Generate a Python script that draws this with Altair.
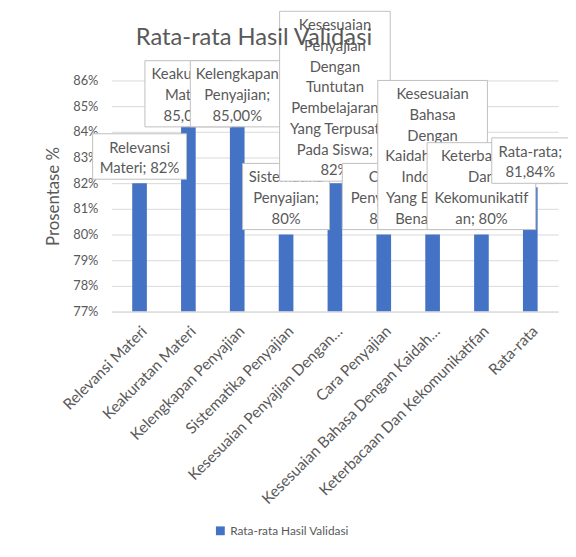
import textwrap

import altair as alt
import pandas as pd

# ---------------- data ----------------
categories = [
    "Relevansi Materi",
    "Keakuratan Materi",
    "Kelengkapan Penyajian",
    "Sistematika Penyajian",
    "Kesesuaian Penyajian Dengan Tuntutan Pembelajaran Yang Terpusat Pada Siswa",
    "Cara Penyajian",
    "Kesesuaian Bahasa Dengan Kaidah Bahasa Indonesia Yang Baik Dan Benar",
    "Keterbacaan Dan Kekomunikatifan",
    "Rata-rata",
]
values = [82, 85, 85, 80, 82, 80, 80, 80, 81.84]
series_name = "Rata-rata Hasil Validasi"

# data-label text, wrapped as in the original
label_lines = [
    ["Relevansi", "Materi; 82%"],
    ["Keakuratan", "Materi;", "85,00%"],
    ["Kelengkapan", "Penyajian;", "85,00%"],
    ["Sistematika", "Penyajian;", "80%"],
    ["Kesesuaian", "Penyajian", "Dengan", "Tuntutan", "Pembelajaran",
     "Yang Terpusat", "Pada Siswa;", "82%"],
    ["Cara", "Penyajian;", "80%"],
    ["Kesesuaian", "Bahasa", "Dengan", "Kaidah Bahasa", "Indonesia",
     "Yang Baik Dan", "Benar; 80%"],
    ["Keterbacaan", "Dan", "Kekomunikatif", "an; 80%"],
    ["Rata-rata;", "81,84%"],
]
y_ticks = [77, 78, 79, 80, 81, 82, 83, 84, 85, 86]

# axis labels are shortened the way the spreadsheet does it
short_names = [textwrap.shorten(c, width=32, placeholder="…") for c in categories]

# ---------------- layout / style ----------------
W, H = 452, 234
Y_MIN, Y_MAX = 77, 86
PPU = H / (Y_MAX - Y_MIN)           # pixels per percentage point
box_widths = [95, 88, 95, 88, 112, 84, 111, 110, 78]
box_gap_px = [4, -21, -21, 5, 2, 5, 5, 5, 4]
LINE_H = 21
BOX_PAD = 4
FONT = "Lato"
GREY = "#595959"
BLUE = "#4472C4"

rows = []
for i, (c, s, v, lines) in enumerate(zip(categories, short_names, values, label_lines)):
    hpx = len(lines) * LINE_H + BOX_PAD
    bot = v + box_gap_px[i] / PPU
    top = bot + hpx / PPU
    rows.append(dict(cat=c, short=s, value=v, idx=i, lines=lines, bot=bot,
                     top=top, series=series_name))
df = pd.DataFrame(rows)

yscale = alt.Scale(domain=[Y_MIN, Y_MAX], zero=False, nice=False)
xscale = alt.Scale(paddingInner=0.7, paddingOuter=0.42)

x_axis = alt.Axis(
    title=None, labelAngle=-45, labelFont=FONT, labelFontSize=15.5,
    labelColor=GREY, ticks=False, domainColor="#D9D9D9", labelPadding=12,
    labelLimit=300,
)
y_axis = alt.Axis(
    title="Prosentase %", values=y_ticks, labelExpr="datum.value + '%'",
    labelFont=FONT, labelFontSize=13, labelColor=GREY, labelPadding=14,
    titleFont=FONT, titleFontSize=17, titleFontWeight="normal",
    titleColor=GREY, titlePadding=10, ticks=False, domain=False,
    gridColor="#D9D9D9",
)


def X():
    return alt.X("short:N", sort=short_names, scale=xscale, axis=x_axis, title=None)


def Y(field):
    return alt.Y(field, scale=yscale, axis=y_axis, title="Prosentase %")


base = alt.Chart(df)

bars = base.mark_bar(clip=True).encode(
    x=X(),
    y=Y("value:Q"),
    y2=alt.datum(Y_MIN),
    color=alt.Color(
        "series:N", scale=alt.Scale(range=[BLUE]),
        legend=alt.Legend(
            title=None, orient="none", legendX=104, legendY=450,
            symbolType="square", symbolSize=80, labelFont=FONT,
            labelFontSize=12, labelColor=GREY, symbolStrokeWidth=0,
        ),
    ),
)

layers = [bars]
for i in range(len(categories)):
    sub = base.transform_filter(alt.datum.idx == i)
    box = sub.mark_bar(width=box_widths[i], color="white", stroke="#BFBFBF",
                       strokeWidth=1).encode(
        x=X(),
        y=Y("bot:Q"),
        y2="top:Q",
    )
    txt = sub.mark_text(baseline="top", dy=7, lineHeight=LINE_H, font=FONT,
                        fontSize=15, color=GREY).encode(
        x=X(),
        y=Y("top:Q"),
        text="lines",
    )
    layers += [box, txt]

chart = alt.layer(*layers).properties(
    width=W, height=H,
    title=alt.Title("Rata-rata Hasil Validasi", font=FONT, fontSize=24,
                    fontWeight="normal", color=GREY, anchor="middle",
                    dx=-82, offset=-40),
    autosize=alt.AutoSizeParams(type="none"),
    padding={"left": 105, "top": 70, "right": 10, "bottom": 232},
    background="white",
).configure_view(stroke=None)

chart.save("out.html", embed_options={"renderer": "svg", "actions": False})
